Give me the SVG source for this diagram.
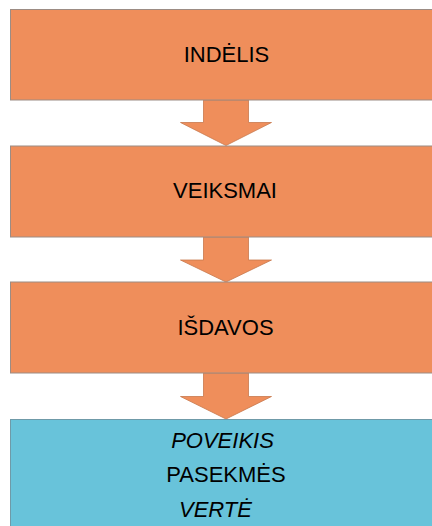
<svg xmlns="http://www.w3.org/2000/svg" width="432" height="526" viewBox="0 0 432 526">
<style>
.box{fill:#EF8E5B;stroke:#9C8C84;stroke-width:1}
.boxb{fill:#68C3DA;stroke:#6F9AA8;stroke-width:1}
.arr{fill:#EF8E5B;stroke:#C8784C;stroke-width:0.8}
.t{font-family:"Liberation Sans",Arial,sans-serif;font-size:22px;fill:#000}
.c{text-anchor:middle}
.i{font-style:italic}
</style>
<rect width="432" height="526" fill="#fff"/>
<g id="connectors">
<polygon class="arr" points="203.5,100 248.5,100 248.5,122.5 271.5,122.5 226,145.5 180.5,122.5 203.5,122.5"/>
<polygon class="arr" points="203.5,237 248.5,237 248.5,260 271.5,260 226,282 180.5,260 203.5,260"/>
<polygon class="arr" points="203.5,373 248.5,373 248.5,396.5 271.5,396.5 226,419 180.5,396.5 203.5,396.5"/>
</g>
<g id="n1">
<rect class="box" x="10.5" y="9.5" width="430" height="90.5"/>
<text class="t c" x="226.5" y="62">INDĖLIS</text>
</g>
<g id="n2">
<rect class="box" x="10.5" y="146" width="430" height="91"/>
<text class="t c" x="225" y="198">VEIKSMAI</text>
</g>
<g id="n3">
<rect class="box" x="10.5" y="282" width="430" height="91"/>
<text class="t c" x="225.5" y="335">IŠDAVOS</text>
</g>
<g id="n4">
<rect class="boxb" x="10.5" y="419.5" width="430" height="120"/>
<text class="t c i" x="222.5" y="448">POVEIKIS</text>
<text class="t c" x="226" y="482">PASEKMĖS</text>
<text class="t c i" x="215.5" y="517">VERTĖ</text>
</g>
</svg>
